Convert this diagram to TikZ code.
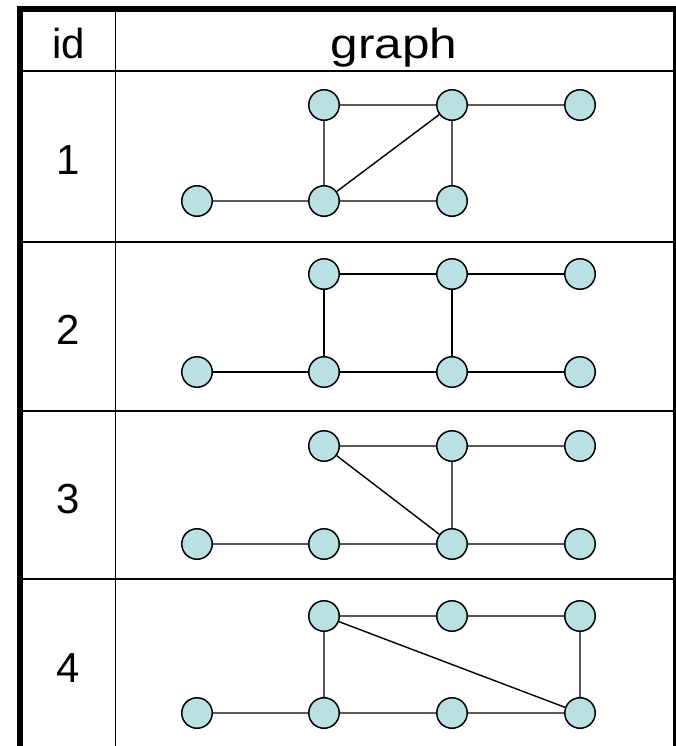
\documentclass[tikz,border=0pt]{standalone}
\usepackage{fontspec}
\setmainfont{Liberation Sans}
\begin{document}
\begin{tikzpicture}[x=1pt,y=-1pt,
  vtx/.style={circle,draw=black,line width=1.5pt,fill=vfill,minimum size=30.5pt,inner sep=0pt},
  edge/.style={line width=1.4pt},
  celltext/.style={anchor=base,inner sep=0pt,font=\fontsize{42}{50}\selectfont},
  rowline/.style={line width=2pt},
]
\definecolor{vfill}{RGB}{187,224,227}
\useasboundingbox (0,0) rectangle (676,746);
\clip (0,0) rectangle (676,746);

% table grid
\draw[rowline,line width=1.8pt] (20,71) -- (676,71);
\foreach \yy in {241.5,410.5,579} \draw[rowline] (20,\yy) -- (676,\yy);
\draw[line width=1.6pt] (115.5,9) -- (115.5,760);
\draw[line width=6pt] (20,770) -- (20,9) -- (676,9) -- (676,770);

% header and row labels
\node[celltext] (hid) at (69,59) {id};
\node[celltext] (hgraph) at (394,59) {\scalebox{1.18}[1]{graph}};
\node[celltext] (n1) at (68,175) {1};
\node[celltext] (n2) at (68,344) {2};
\node[celltext] (n3) at (68,513) {3};
\node[celltext] (n4) at (68,682) {4};

% graph 1
\node[vtx] (a1) at (324,105) {};
\node[vtx] (b1) at (452,105) {};
\node[vtx] (c1) at (580,105) {};
\node[vtx] (d1) at (197,201) {};
\node[vtx] (e1) at (324,201) {};
\node[vtx] (f1) at (452,201) {};
\draw[edge] (a1) -- (b1) (b1) -- (c1) (a1) -- (e1) (e1) -- (b1) (b1) -- (f1) (d1) -- (e1) (e1) -- (f1);

% graph 2
\node[vtx] (a2) at (324,274) {};
\node[vtx] (b2) at (452,274) {};
\node[vtx] (c2) at (580,274) {};
\node[vtx] (d2) at (197,372) {};
\node[vtx] (e2) at (324,372) {};
\node[vtx] (f2) at (452,372) {};
\node[vtx] (g2) at (580,372) {};
\draw[edge] (a2) -- (b2) (b2) -- (c2) (a2) -- (e2) (b2) -- (f2) (d2) -- (e2) (e2) -- (f2) (f2) -- (g2);

% graph 3
\node[vtx] (a3) at (324,446) {};
\node[vtx] (b3) at (452,446) {};
\node[vtx] (c3) at (580,446) {};
\node[vtx] (d3) at (197,544) {};
\node[vtx] (e3) at (324,544) {};
\node[vtx] (f3) at (452,544) {};
\node[vtx] (g3) at (580,544) {};
\draw[edge] (a3) -- (b3) (b3) -- (c3) (a3) -- (f3) (b3) -- (f3) (d3) -- (e3) (e3) -- (f3) (f3) -- (g3);

% graph 4
\node[vtx] (a4) at (324,616) {};
\node[vtx] (b4) at (452,616) {};
\node[vtx] (c4) at (580,616) {};
\node[vtx] (d4) at (197,713) {};
\node[vtx] (e4) at (324,713) {};
\node[vtx] (f4) at (452,713) {};
\node[vtx] (g4) at (580,713) {};
\draw[edge] (a4) -- (b4) (b4) -- (c4) (a4) -- (e4) (c4) -- (g4) (a4) -- (g4) (d4) -- (e4) (e4) -- (f4) (f4) -- (g4);
\end{tikzpicture}
\end{document}
